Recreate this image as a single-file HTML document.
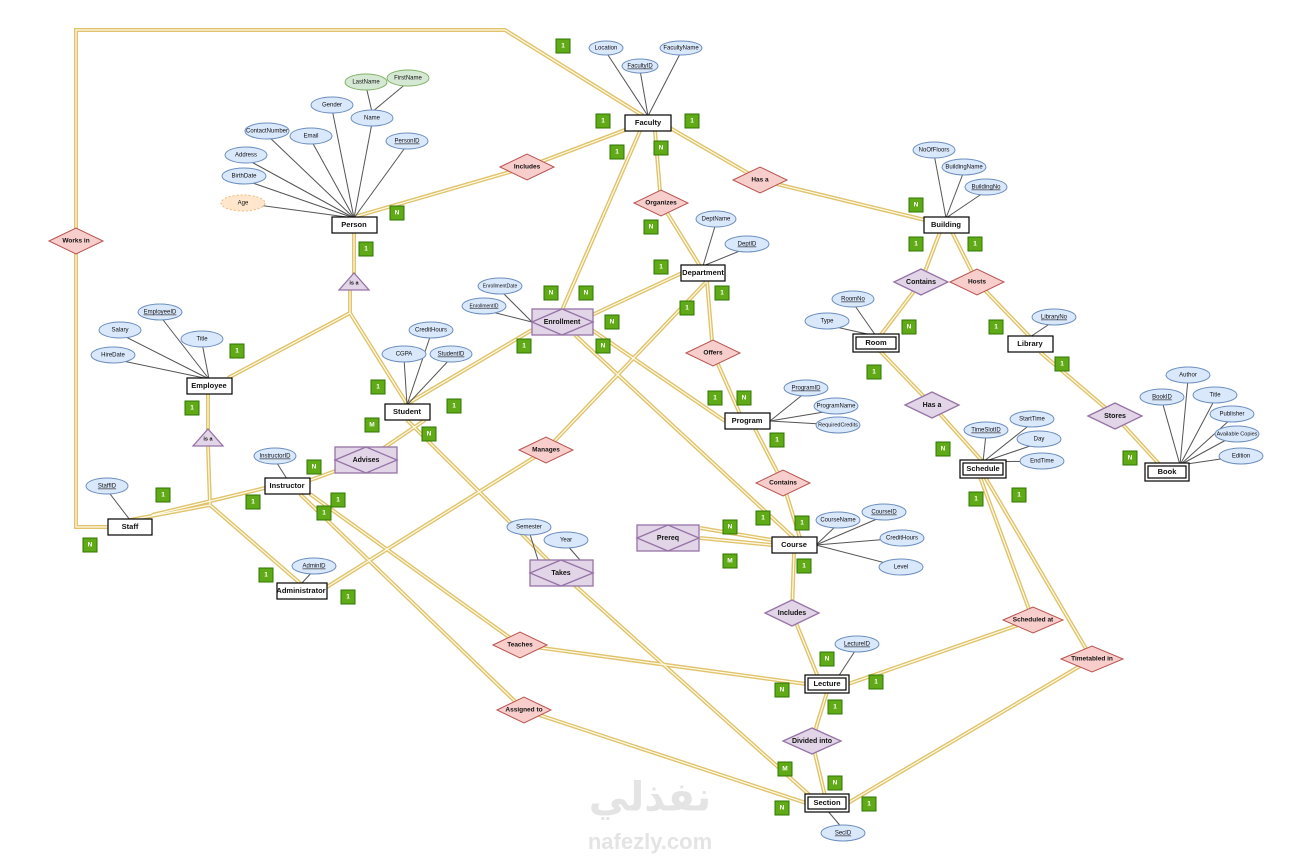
<!DOCTYPE html>
<html><head><meta charset="utf-8"><style>
html,body{margin:0;padding:0;background:#fff;}
svg{display:block;font-family:"Liberation Sans",sans-serif;}
.a ellipse{fill:#dae8fc;stroke:#6c8ebf;stroke-width:1}
text{font-size:6px;text-anchor:middle;dominant-baseline:middle;fill:#111}
.e rect{fill:#fff;stroke:#000;stroke-width:1.2}
.e text{font-size:7.5px;font-weight:bold}
.r polygon{fill:#f8cecc;stroke:#b85450;stroke-width:1}
.r text{font-size:6.5px;font-weight:bold}
.p polygon,.p rect{fill:#e1d5e7;stroke:#9673a6;stroke-width:1.3}
.p text{font-size:7px;font-weight:bold}
.c rect{fill:#60a917;stroke:#2d7600;stroke-width:1}
.c text{fill:#fff;font-size:6.5px;font-weight:bold}
.al line{stroke:#555;stroke-width:1}
</style></head><body>
<svg width="1307" height="857" viewBox="0 0 1307 857" xmlns="http://www.w3.org/2000/svg">
<defs>
<g id="conns" fill="none">
<path d="M108,527 L76,527 L76,30 L505,30 L645,117"/>
<path d="M625,130 L527,167 L354,217"/>
<path d="M670,128 L760,180 L925,220"/>
<path d="M655,131 L661,203 L700,266"/>
<path d="M640,131 L562,310"/>
<path d="M354,233 L354,275"/>
<path d="M350,290 L350,313 L228,378"/>
<path d="M350,313 L407,404"/>
<path d="M208,394 L208,432"/>
<path d="M208,446 L210,505 L130,520"/>
<path d="M210,505 L301,584"/>
<path d="M152,515 L265,488"/>
<path d="M940,232 L921,282 L880,336"/>
<path d="M952,232 L977,282 L1030,337"/>
<path d="M880,351 L932,405 L983,462"/>
<path d="M1040,352 L1115,416 L1160,465"/>
<path d="M592,315 L682,273"/>
<path d="M707,281 L713,353 L740,414"/>
<path d="M707,281 L546,450 L322,590"/>
<path d="M532,330 L407,404"/>
<path d="M592,330 L725,421"/>
<path d="M575,335 L794,538"/>
<path d="M407,420 L561,573 L815,800"/>
<path d="M425,420 L366,460 L305,482"/>
<path d="M755,429 L783,483 L800,538"/>
<path d="M700,538 L772,545"/>
<path d="M700,528 L772,540"/>
<path d="M794,553 L792,613 L818,677"/>
<path d="M310,494 L520,645 L806,684"/>
<path d="M300,494 L524,710 L806,803"/>
<path d="M980,477 L1033,620 L848,684"/>
<path d="M985,477 L1092,659 L848,803"/>
<path d="M827,692 L812,741 L825,796"/>
</g>
</defs>
<use href="#conns" stroke="#e0c36c" stroke-width="4"/>
<use href="#conns" stroke="#fffbe8" stroke-width="1.2"/>

<g class="al">
<line x1="648" y1="116" x2="606" y2="52"/><line x1="648" y1="116" x2="681" y2="52"/><line x1="648" y1="116" x2="640" y2="70"/>
<line x1="372" y1="112" x2="366" y2="86"/><line x1="372" y1="112" x2="408" y2="82"/>
<line x1="354" y1="218" x2="332" y2="109"/><line x1="354" y1="218" x2="372" y2="123"/><line x1="354" y1="218" x2="267" y2="135"/><line x1="354" y1="218" x2="311" y2="140"/><line x1="354" y1="218" x2="407" y2="145"/><line x1="354" y1="218" x2="246" y2="159"/><line x1="354" y1="218" x2="244" y2="180"/><line x1="354" y1="218" x2="243" y2="203"/>
<line x1="946" y1="218" x2="934" y2="154"/><line x1="946" y1="218" x2="964" y2="171"/><line x1="946" y1="218" x2="986" y2="191"/>
<line x1="703" y1="266" x2="716" y2="223"/><line x1="703" y1="266" x2="747" y2="248"/>
<line x1="532" y1="322" x2="500" y2="290"/><line x1="532" y1="322" x2="484" y2="310"/>
<line x1="209" y1="379" x2="160" y2="316"/><line x1="209" y1="379" x2="120" y2="334"/><line x1="209" y1="379" x2="202" y2="343"/><line x1="209" y1="379" x2="113" y2="359"/>
<line x1="407" y1="405" x2="431" y2="334"/><line x1="407" y1="405" x2="404" y2="358"/><line x1="407" y1="405" x2="451" y2="358"/>
<line x1="876" y1="336" x2="853" y2="303"/><line x1="876" y1="336" x2="827" y2="325"/>
<line x1="1030" y1="337" x2="1054" y2="321"/>
<line x1="770" y1="421" x2="806" y2="392"/><line x1="770" y1="421" x2="836" y2="410"/><line x1="770" y1="421" x2="838" y2="425"/>
<line x1="983" y1="462" x2="986" y2="434"/><line x1="983" y1="462" x2="1032" y2="423"/><line x1="983" y1="462" x2="1039" y2="443"/><line x1="983" y1="462" x2="1042" y2="461"/>
<line x1="1180" y1="465" x2="1188" y2="379"/><line x1="1180" y1="465" x2="1162" y2="401"/><line x1="1180" y1="465" x2="1215" y2="399"/><line x1="1180" y1="465" x2="1232" y2="418"/><line x1="1180" y1="465" x2="1237" y2="434"/><line x1="1180" y1="465" x2="1241" y2="456"/>
<line x1="287" y1="479" x2="275" y2="460"/>
<line x1="130" y1="520" x2="107" y2="490"/>
<line x1="538" y1="560" x2="529" y2="531"/><line x1="580" y1="560" x2="566" y2="544"/>
<line x1="816" y1="545" x2="838" y2="524"/><line x1="816" y1="545" x2="884" y2="516"/><line x1="816" y1="545" x2="902" y2="538"/><line x1="816" y1="545" x2="901" y2="567"/>
<line x1="301" y1="584" x2="314" y2="570"/>
<line x1="838" y1="677" x2="857" y2="648"/>
<line x1="827" y1="810" x2="843" y2="829"/>
</g>

<g class="a">
<ellipse cx="606" cy="48" rx="17" ry="7"/><text x="606" y="48">Location</text>
<ellipse cx="681" cy="48" rx="21" ry="7"/><text x="681" y="48">FacultyName</text>
<ellipse cx="640" cy="66" rx="18" ry="7"/><text x="640" y="66" text-decoration="underline">FacultyID</text>
<ellipse cx="366" cy="82" rx="21" ry="8" style="fill:#d5e8d4;stroke:#82b366"/><text x="366" y="82">LastName</text>
<ellipse cx="408" cy="78" rx="21" ry="8" style="fill:#d5e8d4;stroke:#82b366"/><text x="408" y="78">FirstName</text>
<ellipse cx="332" cy="105" rx="21" ry="8"/><text x="332" y="105">Gender</text>
<ellipse cx="372" cy="118" rx="21" ry="8"/><text x="372" y="118">Name</text>
<ellipse cx="267" cy="131" rx="22" ry="8"/><text x="267" y="131">ContactNumber</text>
<ellipse cx="311" cy="136" rx="21" ry="8"/><text x="311" y="136">Email</text>
<ellipse cx="407" cy="141" rx="21" ry="8"/><text x="407" y="141" text-decoration="underline">PersonID</text>
<ellipse cx="246" cy="155" rx="21" ry="8"/><text x="246" y="155">Address</text>
<ellipse cx="244" cy="176" rx="22" ry="8"/><text x="244" y="176">BirthDate</text>
<ellipse cx="243" cy="203" rx="22" ry="8" style="fill:#ffe6cc;stroke:#f0b878;stroke-dasharray:2 2"/><text x="243" y="203">Age</text>
<ellipse cx="934" cy="150" rx="21" ry="8"/><text x="934" y="150">NoOfFloors</text>
<ellipse cx="964" cy="167" rx="22" ry="8"/><text x="964" y="167">BuildingName</text>
<ellipse cx="986" cy="187" rx="21" ry="8"/><text x="986" y="187" text-decoration="underline">BuildingNo</text>
<ellipse cx="716" cy="219" rx="20" ry="8"/><text x="716" y="219">DeptName</text>
<ellipse cx="747" cy="244" rx="22" ry="8"/><text x="747" y="244" text-decoration="underline">DeptID</text>
<ellipse cx="500" cy="286" rx="22" ry="8"/><text x="500" y="286" style="font-size:5px">EnrollmentDate</text>
<ellipse cx="484" cy="306" rx="22" ry="8"/><text x="484" y="306" style="font-size:5px" text-decoration="underline">EnrollmentID</text>
<ellipse cx="160" cy="312" rx="22" ry="8"/><text x="160" y="312" text-decoration="underline">EmployeeID</text>
<ellipse cx="120" cy="330" rx="21" ry="8"/><text x="120" y="330">Salary</text>
<ellipse cx="202" cy="339" rx="21" ry="8"/><text x="202" y="339">Title</text>
<ellipse cx="113" cy="355" rx="22" ry="8"/><text x="113" y="355">HireDate</text>
<ellipse cx="431" cy="330" rx="22" ry="8"/><text x="431" y="330">CreditHours</text>
<ellipse cx="404" cy="354" rx="22" ry="8"/><text x="404" y="354">CGPA</text>
<ellipse cx="451" cy="354" rx="21" ry="8"/><text x="451" y="354" text-decoration="underline">StudentID</text>
<ellipse cx="853" cy="299" rx="21" ry="8"/><text x="853" y="299" text-decoration="underline">RoomNo</text>
<ellipse cx="827" cy="321" rx="22" ry="8"/><text x="827" y="321">Type</text>
<ellipse cx="1054" cy="317" rx="22" ry="8"/><text x="1054" y="317" text-decoration="underline">LibraryNo</text>
<ellipse cx="806" cy="388" rx="22" ry="8"/><text x="806" y="388" text-decoration="underline">ProgramID</text>
<ellipse cx="836" cy="406" rx="22" ry="8"/><text x="836" y="406">ProgramName</text>
<ellipse cx="838" cy="425" rx="22" ry="8"/><text x="838" y="425" style="font-size:5.5px">RequiredCredits</text>
<ellipse cx="986" cy="430" rx="22" ry="8"/><text x="986" y="430" text-decoration="underline">TimeSlotID</text>
<ellipse cx="1032" cy="419" rx="22" ry="8"/><text x="1032" y="419">StartTime</text>
<ellipse cx="1039" cy="439" rx="22" ry="8"/><text x="1039" y="439">Day</text>
<ellipse cx="1042" cy="461" rx="22" ry="8"/><text x="1042" y="461">EndTime</text>
<ellipse cx="1188" cy="375" rx="22" ry="8"/><text x="1188" y="375">Author</text>
<ellipse cx="1162" cy="397" rx="22" ry="8"/><text x="1162" y="397" text-decoration="underline">BookID</text>
<ellipse cx="1215" cy="395" rx="22" ry="8"/><text x="1215" y="395">Title</text>
<ellipse cx="1232" cy="414" rx="22" ry="8"/><text x="1232" y="414">Publisher</text>
<ellipse cx="1237" cy="434" rx="22" ry="8"/><text x="1237" y="434" style="font-size:5.5px">Available Copies</text>
<ellipse cx="1241" cy="456" rx="22" ry="8"/><text x="1241" y="456">Edition</text>
<ellipse cx="275" cy="456" rx="21" ry="8"/><text x="275" y="456" text-decoration="underline">InstructorID</text>
<ellipse cx="107" cy="486" rx="21" ry="8"/><text x="107" y="486" text-decoration="underline">StaffID</text>
<ellipse cx="529" cy="527" rx="22" ry="8"/><text x="529" y="527">Semester</text>
<ellipse cx="566" cy="540" rx="22" ry="8"/><text x="566" y="540">Year</text>
<ellipse cx="838" cy="520" rx="22" ry="8"/><text x="838" y="520">CourseName</text>
<ellipse cx="884" cy="512" rx="22" ry="8"/><text x="884" y="512" text-decoration="underline">CourseID</text>
<ellipse cx="902" cy="538" rx="22" ry="8"/><text x="902" y="538">CreditHours</text>
<ellipse cx="901" cy="567" rx="22" ry="8"/><text x="901" y="567">Level</text>
<ellipse cx="314" cy="566" rx="22" ry="8"/><text x="314" y="566" text-decoration="underline">AdminID</text>
<ellipse cx="857" cy="644" rx="22" ry="8"/><text x="857" y="644" text-decoration="underline">LectureID</text>
<ellipse cx="843" cy="833" rx="22" ry="8"/><text x="843" y="833" text-decoration="underline">SecID</text>
</g>

<g class="r">
<polygon points="500,167 527,154 554,167 527,180"/><text x="527" y="167">Includes</text>
<polygon points="733,180 760,167 787,180 760,193"/><text x="760" y="180">Has a</text>
<polygon points="634,203 661,190 688,203 661,216"/><text x="661" y="203">Organizes</text>
<polygon points="49,241 76,228 103,241 76,254"/><text x="76" y="241">Works in</text>
<polygon points="686,353 713,340 740,353 713,366"/><text x="713" y="353">Offers</text>
<polygon points="519,450 546,437 573,450 546,463"/><text x="546" y="450">Manages</text>
<polygon points="756,483 783,470 810,483 783,496"/><text x="783" y="483">Contains</text>
<polygon points="1003,620 1033,607 1063,620 1033,633"/><text x="1033" y="620">Scheduled at</text>
<polygon points="493,645 520,632 547,645 520,658"/><text x="520" y="645">Teaches</text>
<polygon points="1061,659 1092,646 1123,659 1092,672"/><text x="1092" y="659">Timetabled in</text>
<polygon points="497,710 524,697 551,710 524,723"/><text x="524" y="710">Assigned to</text>
<polygon points="950,282 977,269 1004,282 977,295"/><text x="977" y="282">Hosts</text>
</g>

<g class="p">
<polygon points="894,282 921,269 948,282 921,295"/><text x="921" y="282">Contains</text>
<polygon points="905,405 932,392 959,405 932,418"/><text x="932" y="405">Has a</text>
<polygon points="1088,416 1115,403 1142,416 1115,429"/><text x="1115" y="416">Stores</text>
<polygon points="765,613 792,600 819,613 792,626"/><text x="792" y="613">Includes</text>
<polygon points="783,741 812,728 841,741 812,754"/><text x="812" y="741">Divided into</text>
<polygon points="339,290 354,273 369,290"/><text x="354" y="283" style="font-size:5.5px">is a</text>
<polygon points="193,446 208,429 223,446"/><text x="208" y="439" style="font-size:5.5px">is a</text>
<rect x="532" y="309" width="61" height="26"/><polygon points="532,322 562,309 593,322 562,335" style="fill:none"/><text x="562" y="322">Enrollment</text>
<rect x="335" y="447" width="62" height="26"/><polygon points="335,460 366,447 397,460 366,473" style="fill:none"/><text x="366" y="460">Advises</text>
<rect x="637" y="525" width="62" height="26"/><polygon points="637,538 668,525 699,538 668,551" style="fill:none"/><text x="668" y="538">Prereq</text>
<rect x="530" y="560" width="63" height="26"/><polygon points="530,573 561,560 593,573 561,586" style="fill:none"/><text x="561" y="573">Takes</text>
</g>

<g class="e">
<rect x="625" y="115" width="46" height="16"/><text x="648" y="123">Faculty</text>
<rect x="332" y="217" width="45" height="16"/><text x="354" y="225">Person</text>
<rect x="924" y="217" width="45" height="16"/><text x="946" y="225">Building</text>
<rect x="681" y="265" width="44" height="16"/><text x="703" y="273">Department</text>
<rect x="1008" y="336" width="45" height="16"/><text x="1030" y="344">Library</text>
<rect x="187" y="378" width="45" height="16"/><text x="209" y="386">Employee</text>
<rect x="385" y="404" width="45" height="16"/><text x="407" y="412">Student</text>
<rect x="725" y="413" width="45" height="16"/><text x="747" y="421">Program</text>
<rect x="265" y="478" width="45" height="16"/><text x="287" y="486">Instructor</text>
<rect x="108" y="519" width="44" height="16"/><text x="130" y="527">Staff</text>
<rect x="772" y="537" width="45" height="16"/><text x="794" y="545">Course</text>
<rect x="277" y="583" width="50" height="16"/><text x="301" y="591">Administrator</text>
<rect x="853" y="334" width="46" height="18"/><rect x="856" y="337" width="40" height="12"/><text x="876" y="343">Room</text>
<rect x="960" y="460" width="46" height="18"/><rect x="963" y="463" width="40" height="12"/><text x="983" y="469">Schedule</text>
<rect x="1145" y="463" width="44" height="18"/><rect x="1148" y="466" width="38" height="12"/><text x="1167" y="472">Book</text>
<rect x="805" y="675" width="44" height="18"/><rect x="808" y="678" width="38" height="12"/><text x="827" y="684">Lecture</text>
<rect x="805" y="794" width="44" height="18"/><rect x="808" y="797" width="38" height="12"/><text x="827" y="803">Section</text>
</g>

<g class="c">
<rect x="556" y="39" width="14" height="14"/><text x="563" y="46">1</text>
<rect x="596" y="114" width="14" height="14"/><text x="603" y="121">1</text>
<rect x="685" y="114" width="14" height="14"/><text x="692" y="121">1</text>
<rect x="610" y="145" width="14" height="14"/><text x="617" y="152">1</text>
<rect x="654" y="141" width="14" height="14"/><text x="661" y="148">N</text>
<rect x="390" y="206" width="14" height="14"/><text x="397" y="213">N</text>
<rect x="909" y="198" width="14" height="14"/><text x="916" y="205">N</text>
<rect x="644" y="220" width="14" height="14"/><text x="651" y="227">N</text>
<rect x="359" y="242" width="14" height="14"/><text x="366" y="249">1</text>
<rect x="909" y="237" width="14" height="14"/><text x="916" y="244">1</text>
<rect x="968" y="237" width="14" height="14"/><text x="975" y="244">1</text>
<rect x="654" y="260" width="14" height="14"/><text x="661" y="267">1</text>
<rect x="544" y="286" width="14" height="14"/><text x="551" y="293">N</text>
<rect x="579" y="286" width="14" height="14"/><text x="586" y="293">N</text>
<rect x="715" y="286" width="14" height="14"/><text x="722" y="293">1</text>
<rect x="680" y="301" width="14" height="14"/><text x="687" y="308">1</text>
<rect x="605" y="315" width="14" height="14"/><text x="612" y="322">N</text>
<rect x="902" y="320" width="14" height="14"/><text x="909" y="327">N</text>
<rect x="989" y="320" width="14" height="14"/><text x="996" y="327">1</text>
<rect x="517" y="339" width="14" height="14"/><text x="524" y="346">1</text>
<rect x="596" y="339" width="14" height="14"/><text x="603" y="346">N</text>
<rect x="230" y="344" width="14" height="14"/><text x="237" y="351">1</text>
<rect x="1055" y="357" width="14" height="14"/><text x="1062" y="364">1</text>
<rect x="867" y="365" width="14" height="14"/><text x="874" y="372">1</text>
<rect x="185" y="401" width="14" height="14"/><text x="192" y="408">1</text>
<rect x="371" y="380" width="14" height="14"/><text x="378" y="387">1</text>
<rect x="708" y="391" width="14" height="14"/><text x="715" y="398">1</text>
<rect x="737" y="391" width="14" height="14"/><text x="744" y="398">N</text>
<rect x="447" y="399" width="14" height="14"/><text x="454" y="406">1</text>
<rect x="365" y="418" width="14" height="14"/><text x="372" y="425">M</text>
<rect x="422" y="427" width="14" height="14"/><text x="429" y="434">N</text>
<rect x="770" y="433" width="14" height="14"/><text x="777" y="440">1</text>
<rect x="936" y="442" width="14" height="14"/><text x="943" y="449">N</text>
<rect x="307" y="460" width="14" height="14"/><text x="314" y="467">N</text>
<rect x="1123" y="451" width="14" height="14"/><text x="1130" y="458">N</text>
<rect x="156" y="488" width="14" height="14"/><text x="163" y="495">1</text>
<rect x="331" y="493" width="14" height="14"/><text x="338" y="500">1</text>
<rect x="246" y="495" width="14" height="14"/><text x="253" y="502">1</text>
<rect x="969" y="492" width="14" height="14"/><text x="976" y="499">1</text>
<rect x="1012" y="488" width="14" height="14"/><text x="1019" y="495">1</text>
<rect x="317" y="506" width="14" height="14"/><text x="324" y="513">1</text>
<rect x="756" y="511" width="14" height="14"/><text x="763" y="518">1</text>
<rect x="723" y="520" width="14" height="14"/><text x="730" y="527">N</text>
<rect x="795" y="516" width="14" height="14"/><text x="802" y="523">1</text>
<rect x="83" y="538" width="14" height="14"/><text x="90" y="545">N</text>
<rect x="723" y="554" width="14" height="14"/><text x="730" y="561">M</text>
<rect x="797" y="559" width="14" height="14"/><text x="804" y="566">1</text>
<rect x="259" y="568" width="14" height="14"/><text x="266" y="575">1</text>
<rect x="341" y="590" width="14" height="14"/><text x="348" y="597">1</text>
<rect x="820" y="652" width="14" height="14"/><text x="827" y="659">N</text>
<rect x="775" y="683" width="14" height="14"/><text x="782" y="690">N</text>
<rect x="869" y="675" width="14" height="14"/><text x="876" y="682">1</text>
<rect x="828" y="700" width="14" height="14"/><text x="835" y="707">1</text>
<rect x="778" y="762" width="14" height="14"/><text x="785" y="769">M</text>
<rect x="828" y="776" width="14" height="14"/><text x="835" y="783">N</text>
<rect x="775" y="801" width="14" height="14"/><text x="782" y="808">N</text>
<rect x="862" y="797" width="14" height="14"/><text x="869" y="804">1</text>
</g>

<text x="650" y="800" style="font-size:40px;fill:#e4e4e4;font-weight:bold;font-family:'Liberation Sans','DejaVu Sans',sans-serif">نفذلي</text>
<text x="650" y="843" style="font-size:22px;fill:#e4e4e4;font-weight:bold">nafezly.com</text>
</svg>
</body></html>
